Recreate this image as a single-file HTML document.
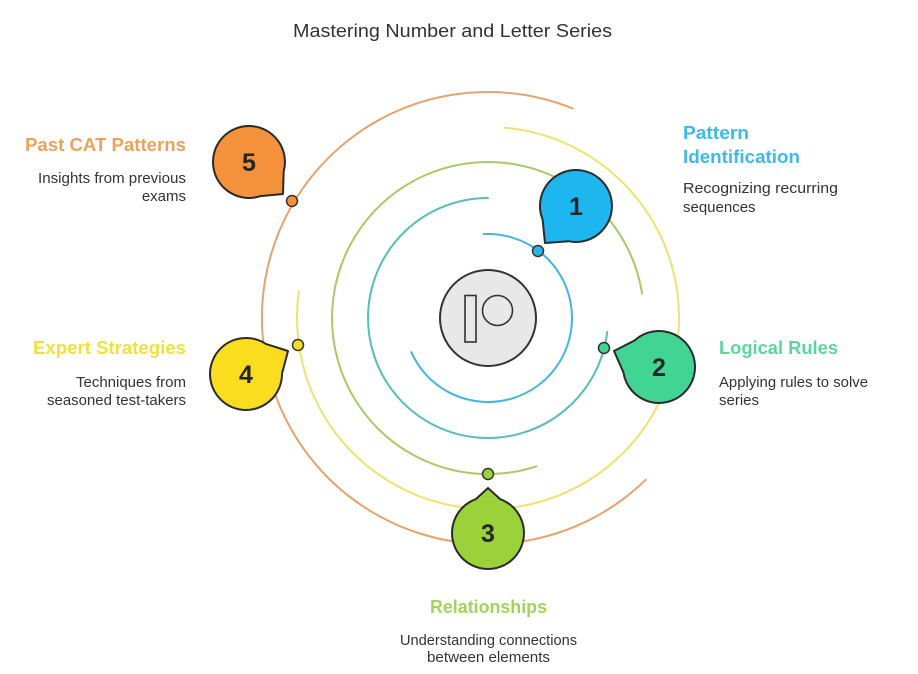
<!DOCTYPE html>
<html>
<head>
<meta charset="utf-8">
<style>
  html, body { margin: 0; padding: 0; background: #ffffff; }
  svg { display: block; }
  .title { font-family: "Liberation Sans", Arial, sans-serif; font-size: 18px; fill: #333333; }
  .head { font-family: "Liberation Sans", Arial, sans-serif; font-size: 18px; font-weight: bold; }
  .desc { font-family: "Liberation Sans", Arial, sans-serif; font-size: 15px; fill: #333333; }
  .num { font-family: "Liberation Sans", Arial, sans-serif; font-size: 25px; font-weight: bold; fill: #262626; }
</style>
</head>
<body>
<svg width="918" height="674" viewBox="0 0 918 674" xmlns="http://www.w3.org/2000/svg">
  <rect x="0" y="0" width="918" height="674" fill="#ffffff"/>

  <!-- Title -->
  <text class="title" x="452.5" y="37" text-anchor="middle" textLength="319" lengthAdjust="spacingAndGlyphs">Mastering Number and Letter Series</text>

  <!-- Rings -->
  <g fill="none" stroke-width="2" stroke-linecap="round">
    <path d="M 645.8 479.7 A 226 226 0 1 1 572.7 108.5" stroke="#e3a46f"/>
    <path d="M 504.6 127.7 A 191 191 0 1 1 298.9 291.4" stroke="#ebe471"/>
    <path d="M 536.2 466.4 A 156 156 0 1 1 642.1 293.6" stroke="#a6cb66"/>
    <path d="M 607.2 332 A 120 120 0 1 1 488 198" stroke="#55bfb2"/>
    <path d="M 483.6 234.1 A 84 84 0 1 1 411.3 352.2" stroke="#44b6d9"/>
  </g>

  <!-- Center icon -->
  <circle cx="488" cy="318" r="48" fill="#e8e8e8" stroke="#333333" stroke-width="2"/>
  <rect x="465" y="295.5" width="11" height="46.5" fill="none" stroke="#333333" stroke-width="1.6"/>
  <circle cx="497.5" cy="310.5" r="15" fill="none" stroke="#333333" stroke-width="1.6"/>

  <!-- Dots -->
  <g stroke="#333333" stroke-width="1.5">
    <circle cx="538" cy="251" r="5.5" fill="#27b5ea"/>
    <circle cx="604" cy="348" r="5.5" fill="#3fd593"/>
    <circle cx="488" cy="474" r="5.5" fill="#9bd23a"/>
    <circle cx="298" cy="345" r="5.5" fill="#f7dc1f"/>
    <circle cx="292" cy="201" r="5.5" fill="#f3913a"/>
  </g>

  <!-- Bubbles -->
  <g stroke="#2a2a2a" stroke-width="2" stroke-linejoin="round">
    <path d="M 568.5 241.2 L 545 243 L 542.6 219.5 A 36 36 0 1 1 568.5 241.2 Z" fill="#1eb6ef"/>
    <path d="M 623.4 372.3 L 614 351 L 634.7 340.4 A 36 36 0 1 1 623.4 372.3 Z" fill="#40d592"/>
    <path d="M 475.7 499.2 L 488 488 L 500.3 499.2 A 36 36 0 1 1 475.7 499.2 Z" fill="#9bd23a"/>
    <path d="M 265.8 343.9 L 288 351 L 282 373.6 A 36 36 0 1 1 265.8 343.9 Z" fill="#fadd1e"/>
    <path d="M 283.7 171.5 L 283 194 L 260.5 196.1 A 36 36 0 1 1 283.7 171.5 Z" fill="#f4923b"/>
  </g>

  <!-- Numbers -->
  <text class="num" x="576" y="215" text-anchor="middle">1</text>
  <text class="num" x="659" y="376" text-anchor="middle">2</text>
  <text class="num" x="488" y="542" text-anchor="middle">3</text>
  <text class="num" x="246" y="383" text-anchor="middle">4</text>
  <text class="num" x="249" y="171" text-anchor="middle">5</text>

  <!-- Pattern Identification -->
  <text class="head" x="683" y="139" fill="#3dbbe6" textLength="66" lengthAdjust="spacingAndGlyphs">Pattern</text>
  <text class="head" x="683" y="163" fill="#3dbbe6" textLength="117" lengthAdjust="spacingAndGlyphs">Identification</text>
  <text class="desc" x="683" y="193" textLength="155" lengthAdjust="spacingAndGlyphs">Recognizing recurring</text>
  <text class="desc" x="683" y="212">sequences</text>

  <!-- Past CAT Patterns -->
  <text class="head" x="186" y="151" fill="#eba35c" text-anchor="end" textLength="161" lengthAdjust="spacingAndGlyphs">Past CAT Patterns</text>
  <text class="desc" x="186" y="183" text-anchor="end" textLength="148" lengthAdjust="spacingAndGlyphs">Insights from previous</text>
  <text class="desc" x="186" y="201" text-anchor="end">exams</text>

  <!-- Expert Strategies -->
  <text class="head" x="186" y="354" fill="#f0e13e" text-anchor="end" textLength="153" lengthAdjust="spacingAndGlyphs">Expert Strategies</text>
  <text class="desc" x="186" y="387" text-anchor="end" textLength="110" lengthAdjust="spacingAndGlyphs">Techniques from</text>
  <text class="desc" x="186" y="405" text-anchor="end" textLength="139" lengthAdjust="spacingAndGlyphs">seasoned test-takers</text>

  <!-- Logical Rules -->
  <text class="head" x="719" y="354" fill="#5fd59e" textLength="119" lengthAdjust="spacingAndGlyphs">Logical Rules</text>
  <text class="desc" x="719" y="387" textLength="149" lengthAdjust="spacingAndGlyphs">Applying rules to solve</text>
  <text class="desc" x="719" y="405">series</text>

  <!-- Relationships -->
  <text class="head" x="488.5" y="613" fill="#a3d45a" text-anchor="middle" textLength="117" lengthAdjust="spacingAndGlyphs">Relationships</text>
  <text class="desc" x="488.5" y="645" text-anchor="middle" textLength="177" lengthAdjust="spacingAndGlyphs">Understanding connections</text>
  <text class="desc" x="488.5" y="662" text-anchor="middle" textLength="123" lengthAdjust="spacingAndGlyphs">between elements</text>
</svg>
</body>
</html>
